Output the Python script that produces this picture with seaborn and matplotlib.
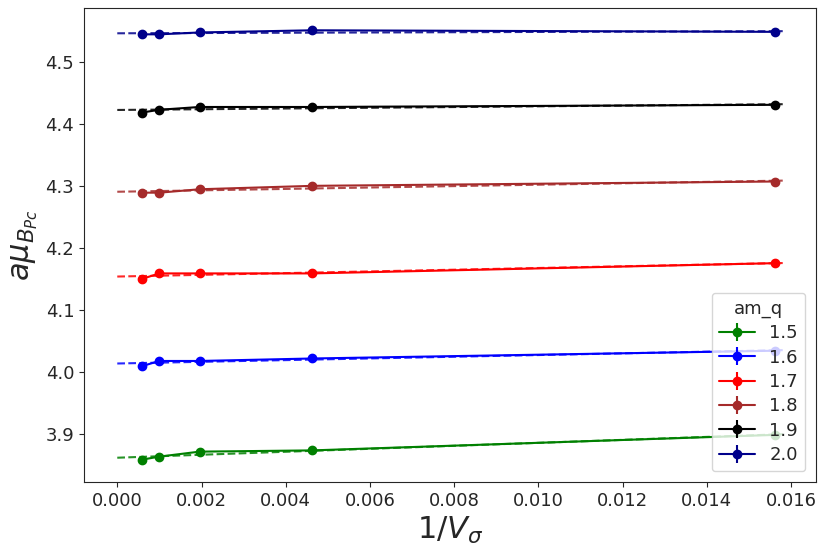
import numpy as np
import pandas as pd
import matplotlib
matplotlib.use('Agg')
import matplotlib.pyplot as plt
import seaborn as sns

# ── Data ──────────────────────────────────────────────────────────────────────
inv_vol = [1 / 1728, 1 / 1000, 1 / 512, 1 / 216, 1 / 64]
am_q = ["1.5", "1.6", "1.7", "1.8", "1.9", "2.0"]
colors = ["green", "blue", "red", "brown", "black", "darkblue"]

mu_15 = [3.859, 3.864, 3.872, 3.874, 3.899]
mu_16 = [4.0095, 4.018, 4.018, 4.022, 4.0345]
mu_17 = [4.150, 4.159, 4.159, 4.159, 4.1755]
mu_18 = [4.289, 4.289, 4.2945, 4.300, 4.307]
mu_19 = [4.418, 4.4225, 4.427, 4.427, 4.4305]
mu_20 = [4.544, 4.544, 4.547, 4.5505, 4.548]
mu_all = [mu_15, mu_16, mu_17, mu_18, mu_19, mu_20]
mu_err = [0.0012, 0.0012, 0.0012, 0.0012, 0.0012]

fit_x = [0.0, 0.0158]

# ── Plot ──────────────────────────────────────────────────────────────────────
sns.set_style("ticks")
plt.rcParams['font.family'] = ['DejaVu Sans']

fig = plt.figure(figsize=(8.34, 5.47), dpi=100)
ax = fig.add_axes([84 / 834, 1 - 482 / 547, (816 - 84) / 834, (482 - 8) / 547])

for q, mu, c in zip(am_q, mu_all, colors):
    ax.errorbar(inv_vol, mu, yerr=mu_err, fmt="-o", color=c, markersize=6,
                linewidth=1.5, label=q)
    slope, icpt = np.polyfit(inv_vol, mu, 1)
    fit = pd.DataFrame({"x": fit_x, "y": np.polyval([slope, icpt], fit_x)})
    sns.lineplot(data=fit, x="x", y="y", ax=ax, color=c, linestyle="--",
                 linewidth=1.5, alpha=0.85, legend=False)

ax.set_xticks(np.arange(0, 0.0161, 0.002))
ax.set_xticklabels([f"{t:.3f}" for t in np.arange(0, 0.0161, 0.002)])
ax.set_yticks([3.9, 4.0, 4.1, 4.2, 4.3, 4.4, 4.5])
ax.tick_params(labelsize=13)
ax.set_xlabel(r"$1/V_\sigma$", fontsize=22)
ax.set_ylabel(r"$a\mu_{B_{Pc}}$", fontsize=22)

ax.legend(title="am_q", loc="lower right", fontsize=13, title_fontsize=13,
          labelspacing=0.35, borderaxespad=0.6)

fig.savefig("out.png", dpi=100)
